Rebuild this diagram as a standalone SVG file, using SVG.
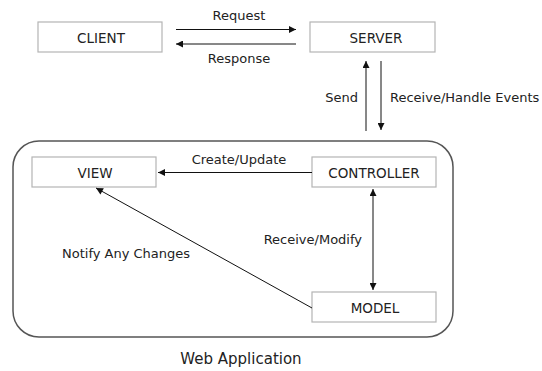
<svg xmlns="http://www.w3.org/2000/svg" width="542" height="371" viewBox="0 0 542 371">
<style>
.box{fill:#fff;stroke:#b4b4b4;stroke-width:1.2}
.t{font-family:"DejaVu Sans",Verdana,sans-serif;font-size:13px;fill:#222}
.b{font-size:13.5px}
.c{text-anchor:middle}
.ln{stroke:#111;stroke-width:1;fill:none}
</style>
<defs>
<marker id="ah" viewBox="0 0 10 10" refX="10" refY="5" markerWidth="9" markerHeight="7" markerUnits="userSpaceOnUse" orient="auto-start-reverse">
<path d="M0,0 L10,5 L0,10 z" fill="#111"/>
</marker>
</defs>
<rect id="app" x="13" y="141" width="440" height="196" rx="26" ry="26" fill="none" stroke="#555" stroke-width="1.5"/>
<g id="client"><rect class="box" x="38" y="22" width="124" height="30"/><text class="t b c" x="101" y="43">CLIENT</text></g>
<g id="server"><rect class="box" x="310" y="22" width="125" height="30"/><text class="t b c" x="376" y="43">SERVER</text></g>
<g id="view"><rect class="box" x="32" y="157" width="124" height="30"/><text class="t b c" x="95" y="178">VIEW</text></g>
<g id="controller"><rect class="box" x="312" y="157" width="124" height="30"/><text class="t b c" x="374" y="178">CONTROLLER</text></g>
<g id="model"><rect class="box" x="312" y="292" width="124" height="30"/><text class="t b c" x="375" y="313">MODEL</text></g>
<g id="connectors">
<line class="ln" x1="176" y1="29.5" x2="296" y2="29.5" marker-end="url(#ah)"/>
<line class="ln" x1="296" y1="44" x2="176" y2="44" marker-end="url(#ah)"/>
<line class="ln" x1="366" y1="131" x2="366" y2="61" marker-end="url(#ah)"/>
<line class="ln" x1="381" y1="61" x2="381" y2="130" marker-end="url(#ah)"/>
<line class="ln" x1="312" y1="172.5" x2="158" y2="172.5" marker-end="url(#ah)"/>
<line class="ln" x1="373" y1="189" x2="373" y2="290" marker-start="url(#ah)" marker-end="url(#ah)"/>
<line class="ln" x1="312" y1="308" x2="96" y2="188" marker-end="url(#ah)"/>
</g>
<g id="labels">
<text class="t c" x="239" y="20">Request</text>
<text class="t c" x="239" y="63">Response</text>
<text class="t" x="358" y="102" text-anchor="end">Send</text>
<text class="t" x="390" y="102">Receive/Handle Events</text>
<text class="t c" x="239" y="164">Create/Update</text>
<text class="t" x="362" y="244" text-anchor="end">Receive/Modify</text>
<text class="t" x="62" y="258">Notify Any Changes</text>
<text class="t c" x="241" y="364" style="font-size:15px">Web Application</text>
</g>
</svg>
